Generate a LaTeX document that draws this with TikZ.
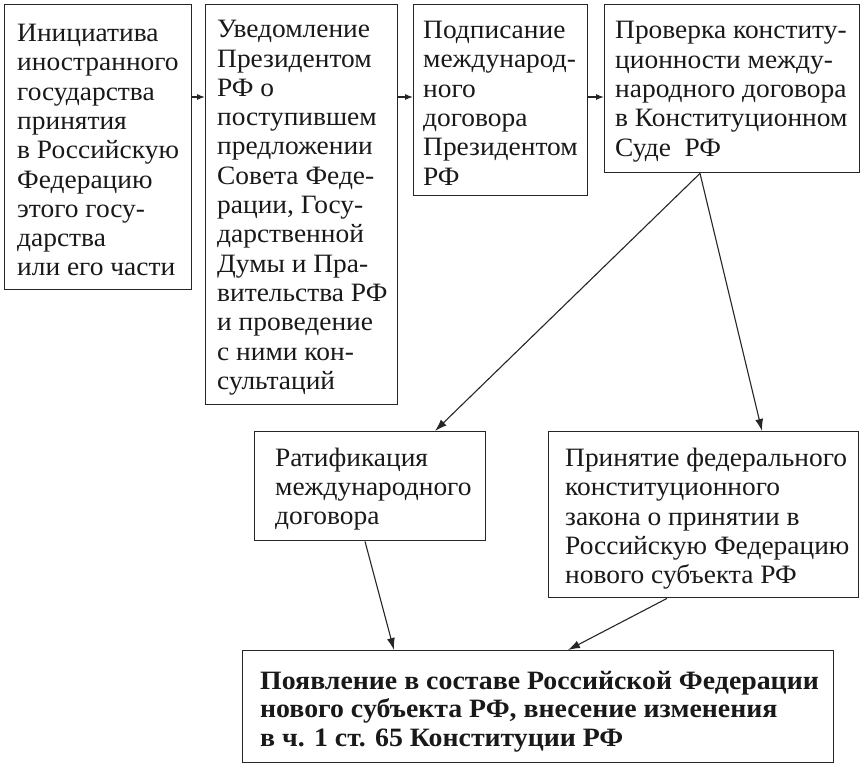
\documentclass[tikz,border=0pt]{standalone}
\usepackage{fontspec}
\setmainfont{Liberation Serif}[FakeStretch=1.035]
\newfontface\bwide{Liberation Serif Bold}[FakeStretch=1.05]
\usetikzlibrary{arrows.meta}
\begin{document}
\begin{tikzpicture}[x=1pt,y=-1pt,
  box/.style={draw=black!85, line width=1.4pt, rectangle, inner sep=0pt, anchor=north west},
  txt/.style={anchor=west, align=left, inner sep=0pt, yshift=-3pt, font=\fontsize{26.5}{29.3}\selectfont, text=black!90},
  arr/.style={-{Latex[length=12pt,width=8pt]}, line width=1.1pt, draw=black!85},
  harr/.style={-{Latex[length=8pt,width=6pt]}, line width=1.1pt, draw=black!85}]
\useasboundingbox (0,0) rectangle (864,768);
\fill[white] (0,0) rectangle (864,768);

\node[box, minimum width=187pt, minimum height=285pt] (b1) at (4,4) {};
\node[box, minimum width=192pt, minimum height=400pt] (b2) at (205,4) {};
\node[box, minimum width=174pt, minimum height=191pt] (b3) at (413,4) {};
\node[box, minimum width=255pt, minimum height=168pt] (b4) at (604,4) {};
\node[box, minimum width=231pt, minimum height=109pt] (b5) at (254,431) {};
\node[box, minimum width=310pt, minimum height=166pt] (b6) at (548,431) {};
\node[box, minimum width=591pt, minimum height=112pt] (b7) at (242,650) {};

\node[txt] (t1) at ([xshift=13pt]b1.west) {Инициатива\\иностранного\\государства\\принятия\\в Российскую\\Федерацию\\этого госу-\\дарства\\или его части};
\node[txt] (t2) at ([xshift=12pt]b2.west) {Уведомление\\Президентом\\РФ о\\поступившем\\предложении\\Совета Феде-\\рации, Госу-\\дарственной\\Думы и Пра-\\вительства РФ\\и проведение\\с ними кон-\\сультаций};
\node[txt] (t3) at ([xshift=10pt]b3.west) {Подписание\\международ-\\ного\\договора\\Президентом\\РФ};
\node[txt] (t4) at ([xshift=11pt]b4.west) {Проверка конститу-\\ционности между-\\народного договора\\в Конституционном\\Суде~ РФ};
\node[txt] (t5) at ([xshift=21pt]b5.west) {Ратификация\\международного\\договора};
\node[txt, yshift=-1pt] (t6) at ([xshift=17pt]b6.west) {Принятие федерального\\конституционного\\закона о принятии в\\Российскую Федерацию\\нового субъекта РФ};
\node[txt, yshift=-2pt, font=\fontsize{26.5}{28.2}\selectfont\bwide] (t7) at ([xshift=18pt]b7.west) {Появление в составе Российской Федерации\\нового субъекта РФ, внесение изменения\\в ч. 1 ст. 65 Конституции РФ};

\coordinate (h) at (0,97);
\draw[harr] (b1.east |- h) -- (b2.west |- h);
\draw[harr] (b2.east |- h) -- (b3.west |- h);
\draw[harr] (b3.east |- h) -- (b4.west |- h);

\coordinate (c4) at ([xshift=96pt]b4.south west);
\draw[arr] (c4) -- ([xshift=181pt]b5.north west);
\draw[arr] (c4) -- ([xshift=214pt]b6.north west);
\draw[arr] ([xshift=111pt]b5.south west) -- ([xshift=152pt]b7.north west);
\draw[arr] ([xshift=119pt]b6.south west) -- ([xshift=326pt]b7.north west);
\end{tikzpicture}
\end{document}
